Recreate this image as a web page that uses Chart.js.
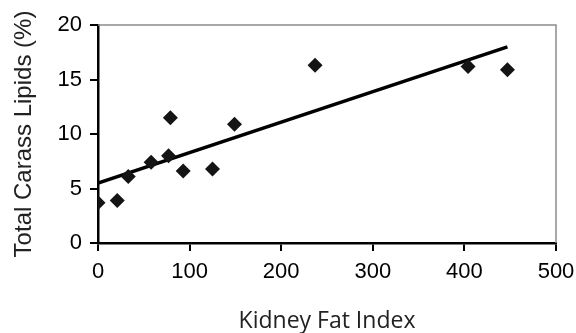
<!DOCTYPE html>
<html>
<head>
<meta charset="utf-8">
<script src="https://cdn.jsdelivr.net/npm/chart.js@4/dist/chart.umd.min.js"></script>
<style>
  html, body { margin: 0; padding: 0; background: #fff; }
  #wrap { width: 576px; height: 333px; }
</style>
</head>
<body>
<div id="wrap"><canvas id="chart"></canvas></div>
<script>
// Kidney fat index vs total carcass lipids
const kidneyFat = [0, 21, 33, 58, 77, 79, 93, 125, 149, 237, 404, 447];
const lipids = [3.7, 3.9, 6.1, 7.4, 8.0, 11.5, 6.6, 6.8, 10.9, 16.3, 16.2, 15.9];

// trend line (ends)
const trendX = [0, 447];
const trendY = [5.5, 18.0];

const xTicks = [0, 100, 200, 300, 400, 500];
const yTicks = [0, 5, 10, 15, 20];

const points = kidneyFat.map((x, i) => ({ x: x, y: lipids[i] }));
const trend = trendX.map((x, i) => ({ x: x, y: trendY[i] }));

// gray top + right frame
const frame = {
  id: "frame",
  afterDraw(chart) {
    const { ctx, chartArea: a } = chart;
    ctx.save();
    ctx.strokeStyle = "#8c8c8c";
    ctx.lineWidth = 1.5;
    ctx.beginPath();
    ctx.moveTo(a.left, a.top);
    ctx.lineTo(a.right, a.top);
    ctx.lineTo(a.right, a.bottom);
    ctx.stroke();
    ctx.restore();
  }
};

const tickFont = { family: "'Liberation Sans', Arial, sans-serif", size: 22 };

new Chart(document.getElementById("chart"), {
  type: "scatter",
  data: {
    datasets: [
      {
        type: "line",
        data: trend,
        borderColor: "#000",
        borderWidth: 3.5,
        pointRadius: 0,
        fill: false,
        order: 2
      },
      {
        data: points,
        pointStyle: "rectRot",
        pointRadius: 7.5,
        backgroundColor: "#141414",
        borderColor: "#141414",
        borderWidth: 0,
        order: 1
      }
    ]
  },
  plugins: [frame],
  options: {
    responsive: true,
    maintainAspectRatio: false,
    animation: false,
    layout: { padding: { top: 25, right: 20, left: 0, bottom: 0 } },
    plugins: { legend: { display: false }, tooltip: { enabled: false } },
    scales: {
      x: {
        type: "linear",
        min: 0,
        max: 500,
        afterBuildTicks: s => { s.ticks = xTicks.map(v => ({ value: v })); },
        afterFit: s => { s.height = 90; s.paddingRight = 20; s.paddingLeft = 0; },
        grid: { drawOnChartArea: false, tickLength: 8, tickColor: "#000", lineWidth: 2 },
        border: { color: "#000", width: 2.5 },
        ticks: { color: "#000", font: tickFont, padding: 8, maxRotation: 0 },
        title: {
          display: true,
          text: "Kidney Fat Index",
          color: "#222",
          font: { family: "'Open Sans', sans-serif", size: 23, lineHeight: 1 },
          padding: { top: 0, bottom: 0 }
        }
      },
      y: {
        min: 0,
        max: 20,
        afterBuildTicks: s => { s.ticks = yTicks.map(v => ({ value: v })); },
        afterFit: s => { s.width = 98; },
        grid: { drawOnChartArea: false, tickLength: 8, tickColor: "#000", lineWidth: 2 },
        border: { color: "#000", width: 2.5 },
        ticks: { color: "#000", font: tickFont, padding: 8 },
        title: {
          display: true,
          text: "Total Carass Lipids (%)",
          color: "#222",
          font: { family: "'Liberation Sans', Arial, sans-serif", size: 24 },
          padding: { top: 10, bottom: 0 }
        }
      }
    }
  }
});
</script>
</body>
</html>
